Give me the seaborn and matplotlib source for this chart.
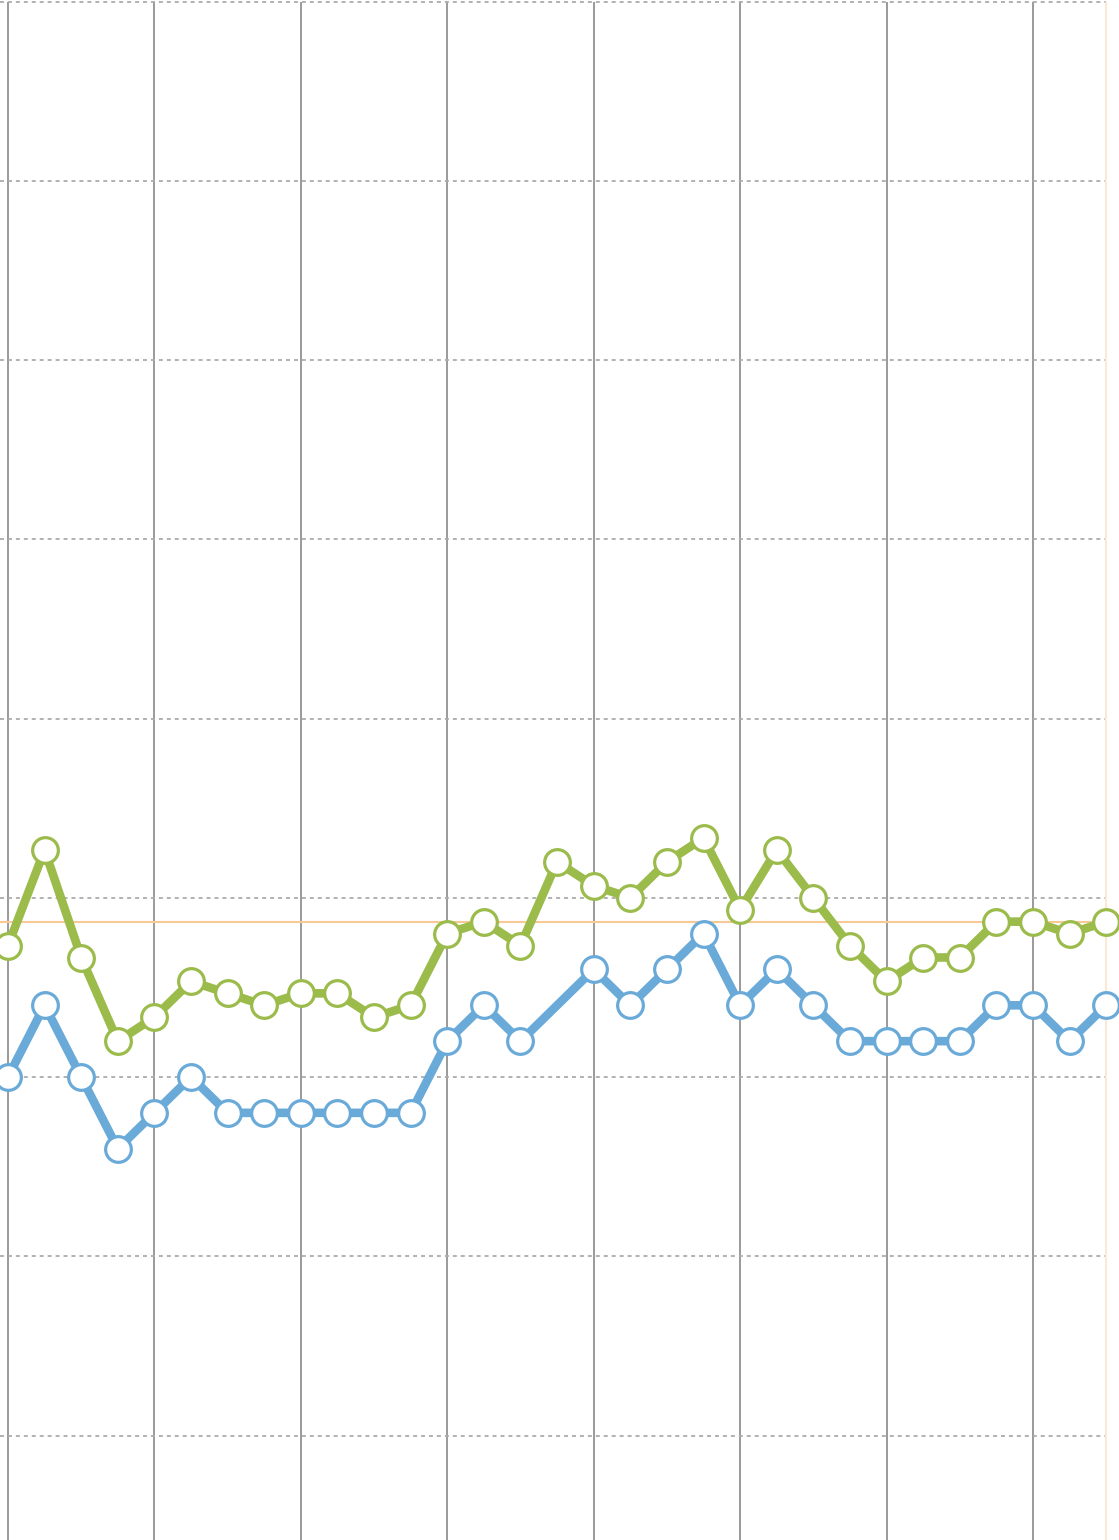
import numpy as np
import pandas as pd
import matplotlib
matplotlib.use("Agg")
import matplotlib.pyplot as plt
import seaborn as sns

# ---- data ----
green_values = [11, 19, 10, 3, 5, 8, 7, 6, 7, 7, 5, 6, 12, 13, 11, 18, 16, 15, 18, 20,
                14, 19, 15, 11, 8, 10, 10, 13, 13, 12, 13]
blue_values = [0, 6, 0, -6, -3, 0, -3, -3, -3, -3, -3, -3, 3, 6, 3, np.nan, 9, 6, 9, 12,
               6, 9, 6, 3, 3, 3, 3, 6, 6, 3, 6]
reference_level = 13
y_gridlines = [-30, -15, 0, 15, 30, 45, 60, 75, 90]
x_gridlines = [0, 4, 8, 12, 16, 20, 24, 28]

idx = list(range(len(green_values)))
df = pd.DataFrame({
    "i": idx * 2,
    "value": green_values + blue_values,
    "series": ["green"] * len(idx) + ["blue"] * len(idx),
})

sns.set_style("white")
fig = plt.figure(figsize=(11.19, 15.40), dpi=100)
ax = fig.add_axes([0, 0, 1, 1])

px = 36.607  # pixels per index step
x_left = -8 / px
x_right = (1119 - 8) / px
unit = 179.25 / 15
y_top = 1077 / unit
y_bottom = (1077 - 1540) / unit

ax.set_xlim(x_left, x_right)
ax.set_ylim(y_bottom, y_top)

# grid
ax.vlines(x_gridlines, y_bottom, 90, colors="#9a9a9a", linewidth=1.4, zorder=1)
ax.hlines(y_gridlines, x_left, 30, colors="#ababab", linewidth=1.3,
          linestyles=(0, (2.2, 2.2)), zorder=1)
ax.hlines([reference_level], x_left, 30, colors="#f6c995", linewidth=1.5, zorder=2)
ax.vlines([30], y_bottom, 90, colors="#fbe9d6", linewidth=1.5, zorder=1)

palette = {"green": "#9bbb4b", "blue": "#6aaad9"}
sns.lineplot(data=df, x="i", y="value", hue="series", palette=palette,
             hue_order=["blue", "green"], linewidth=6.2, marker="o",
             markersize=18.5, markerfacecolor="white", markeredgewidth=2.3,
             legend=False, ax=ax, zorder=3)
for line in ax.get_lines():
    line.set_markeredgecolor(line.get_color())
    line.set_clip_on(True)

ax.set_xlabel("")
ax.set_ylabel("")
ax.set_xticks([])
ax.set_yticks([])
for s in ax.spines.values():
    s.set_visible(False)

fig.savefig("out.png", dpi=100)
